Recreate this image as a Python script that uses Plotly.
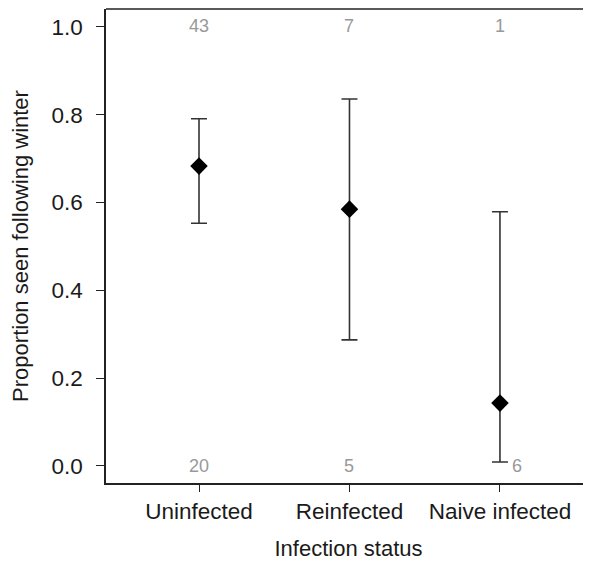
import plotly.graph_objects as go

categories = ["Uninfected", "Reinfected", "Naive infected"]
proportion = [0.683, 0.585, 0.143]
upper_ci = [0.791, 0.836, 0.579]
lower_ci = [0.553, 0.287, 0.009]
n_seen = ["43", "7", "1"]
n_not_seen = ["20", "5", "6"]

xi = list(range(len(categories)))
err_plus = [u - p for u, p in zip(upper_ci, proportion)]
err_minus = [p - l for p, l in zip(proportion, lower_ci)]

FONT = "Liberation Sans, Arial, Helvetica, sans-serif"

fig = go.Figure()
fig.add_trace(go.Scatter(
    x=xi, y=proportion, mode="markers",
    marker=dict(symbol="diamond", size=13.5, color="black"),
    error_y=dict(type="data", symmetric=False, array=err_plus, arrayminus=err_minus,
                 color="#333333", thickness=1.6, width=8),
    showlegend=False,
))

ann = []
for i, t in enumerate(n_seen):
    ann.append(dict(x=i, y=1.0, text=t, showarrow=False, xref="x", yref="y",
                    yshift=1,
                    font=dict(size=18, color="#999999", family=FONT)))
for i, t in enumerate(n_not_seen):
    ann.append(dict(x=i, y=0.0, text=t, showarrow=False, xref="x", yref="y",
                    xshift=17 if i == 2 else 0,
                    font=dict(size=18, color="#999999", family=FONT)))

fig.update_layout(
    width=583, height=553,
    margin=dict(l=98, r=0, t=1, b=78),
    plot_bgcolor="white", paper_bgcolor="white",
    font=dict(family=FONT, size=22, color="#1a1a1a"),
    annotations=ann,
    shapes=[dict(type="line", xref="paper", yref="paper", x0=0, x1=1, y0=1, y1=1,
                 line=dict(color="#222222", width=1.6))],
    xaxis=dict(range=[-0.618, 2.605], tickvals=xi, ticktext=categories,
               tickfont=dict(size=22.5),
               showline=True, linecolor="#222222", linewidth=1.6,
               ticks="outside", ticklen=7, tickwidth=1.4, tickcolor="#222222",
               showgrid=False, zeroline=False,
               title=dict(text="Infection status", standoff=18, font=dict(size=22))),
    yaxis=dict(range=[-0.039, 1.041], tickvals=[0, 0.2, 0.4, 0.6, 0.8, 1.0],
               tickformat=".1f", tickfont=dict(size=22.5), ticklabelstandoff=9,
               showline=True, linecolor="#222222", linewidth=1.6,
               ticks="outside", ticklen=8, tickwidth=1.4, tickcolor="#222222",
               showgrid=False, zeroline=False,
               title=dict(text="Proportion seen following winter", standoff=20,
                          font=dict(size=22))),
)

fig.write_html("out.html")
